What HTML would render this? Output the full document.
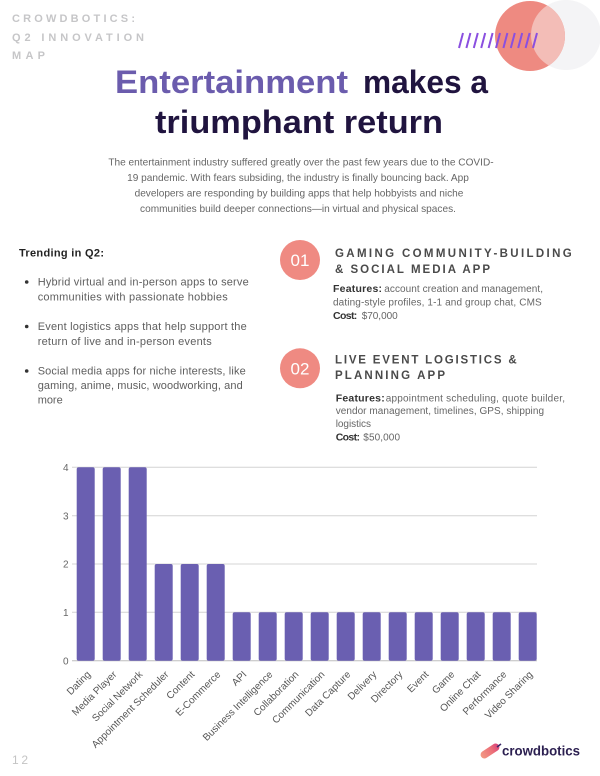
<!DOCTYPE html>
<html>
<head>
<meta charset="utf-8">
<style>
  html,body{margin:0;padding:0;background:#fff;}
  body{width:600px;height:776px;overflow:hidden;}
  svg{display:block;}
  text{font-family:"Liberation Sans", Arial, sans-serif;}
</style>
</head>
<body>
<svg width="600" height="776" viewBox="0 0 600 776" xmlns="http://www.w3.org/2000/svg">
  <defs>
    <clipPath id="gclip"><circle cx="566" cy="35" r="35"/></clipPath>
    <linearGradient id="logoGrad" x1="0" y1="0" x2="1" y2="0">
      <stop offset="0" stop-color="#f29a84"/>
      <stop offset="0.6" stop-color="#ec6f78"/>
      <stop offset="1" stop-color="#d9407a"/>
    </linearGradient>
  </defs>

  <!-- top-right decoration -->
  <circle cx="566" cy="35" r="35" fill="#f4f4f6"/>
  <circle cx="530" cy="36" r="35" fill="#ee8a81"/>
  <circle cx="530" cy="36" r="35" fill="#f3bdb7" clip-path="url(#gclip)"/>
  <g stroke="#8a4fe0" stroke-width="2">
    <line x1="463" y1="33" x2="459" y2="48"/>
    <line x1="470.4" y1="33" x2="466.4" y2="48"/>
    <line x1="477.8" y1="33" x2="473.8" y2="48"/>
    <line x1="485.2" y1="33" x2="481.2" y2="48"/>
    <line x1="492.6" y1="33" x2="488.6" y2="48"/>
    <line x1="500" y1="33" x2="496" y2="48"/>
    <line x1="507.4" y1="33" x2="503.4" y2="48"/>
    <line x1="514.8" y1="33" x2="510.8" y2="48"/>
    <line x1="522.2" y1="33" x2="518.2" y2="48"/>
    <line x1="529.6" y1="33" x2="525.6" y2="48"/>
    <line x1="537" y1="33" x2="533" y2="48"/>
  </g>

  <!-- header -->
  <g fill="#c6c6c8" font-weight="bold" font-size="11">
    <text x="12" y="22" textLength="123" lengthAdjust="spacing">CROWDBOTICS:</text>
    <text x="12" y="41" textLength="132" lengthAdjust="spacing">Q2 INNOVATION</text>
    <text x="12" y="59" textLength="33" lengthAdjust="spacing">MAP</text>
  </g>

  <!-- title -->
  <g font-weight="bold" font-size="32">
    <text x="115" y="93" fill="#6b5cad" textLength="233" lengthAdjust="spacingAndGlyphs">Entertainment</text>
    <text x="363" y="93" fill="#20143f" textLength="125" lengthAdjust="spacingAndGlyphs">makes a</text>
    <text x="155" y="133" fill="#20143f" textLength="288" lengthAdjust="spacingAndGlyphs">triumphant return</text>
  </g>

  <!-- paragraph -->
  <g fill="#666" font-size="10.1" text-anchor="middle">
    <text x="301" y="165.5">The entertainment industry suffered greatly over the past few years due to the COVID-</text>
    <text x="298" y="181">19 pandemic. With fears subsiding, the industry is finally bouncing back. App</text>
    <text x="299" y="196.5">developers are responding by building apps that help hobbyists and niche</text>
    <text x="298" y="212">communities build deeper connections—in virtual and physical spaces.</text>
  </g>

  <!-- left column -->
  <text x="19" y="256.5" font-size="11" font-weight="bold" fill="#222" textLength="85" lengthAdjust="spacing">Trending in Q2:</text>
  <g fill="#333">
    <circle cx="26.7" cy="282" r="1.8"/>
    <circle cx="26.7" cy="326.5" r="1.8"/>
    <circle cx="26.7" cy="371" r="1.8"/>
  </g>
  <g fill="#5e5e5e" font-size="11">
    <text x="37.7" y="285.5" textLength="211" lengthAdjust="spacing">Hybrid virtual and in-person apps to serve</text>
    <text x="37.7" y="300.5" textLength="190" lengthAdjust="spacing">communities with passionate hobbies</text>
    <text x="37.7" y="330" textLength="209" lengthAdjust="spacing">Event logistics apps that help support the</text>
    <text x="37.7" y="345" textLength="174" lengthAdjust="spacing">return of live and in-person events</text>
    <text x="37.7" y="374.5" textLength="208" lengthAdjust="spacing">Social media apps for niche interests, like</text>
    <text x="37.7" y="389" textLength="205" lengthAdjust="spacing">gaming, anime, music, woodworking, and</text>
    <text x="37.7" y="403.5" textLength="25" lengthAdjust="spacing">more</text>
  </g>

  <!-- right column -->
  <circle cx="300" cy="260" r="20" fill="#ef8a82"/>
  <text x="300" y="266" text-anchor="middle" font-size="17" fill="#fff">01</text>
  <circle cx="300" cy="368.3" r="20" fill="#ef8a82"/>
  <text x="300" y="374.3" text-anchor="middle" font-size="17" fill="#fff">02</text>

  <g fill="#4a4a4a" font-weight="bold" font-size="11.5">
    <text x="335" y="257" textLength="236.7" lengthAdjust="spacing">GAMING COMMUNITY-BUILDING</text>
    <text x="335" y="273" textLength="155" lengthAdjust="spacing">&amp; SOCIAL MEDIA APP</text>
    <text x="335" y="363.5" textLength="181.7" lengthAdjust="spacing">LIVE EVENT LOGISTICS &amp;</text>
    <text x="335" y="379" textLength="110" lengthAdjust="spacing">PLANNING APP</text>
  </g>

  <g font-size="10">
    <text x="333" y="292" font-weight="bold" font-size="10.5" fill="#333" textLength="49" lengthAdjust="spacing">Features:</text>
    <text x="384.3" y="292" fill="#666" textLength="158.7" lengthAdjust="spacing">account creation and management,</text>
    <text x="333" y="305.5" fill="#666" textLength="208.7" lengthAdjust="spacing">dating-style profiles, 1-1 and group chat, CMS</text>
    <text x="333" y="319" font-weight="bold" font-size="10.5" fill="#333" textLength="24.3" lengthAdjust="spacing">Cost:</text>
    <text x="361.7" y="319" fill="#666" textLength="36" lengthAdjust="spacing">$70,000</text>

    <text x="335.7" y="401.5" font-weight="bold" font-size="10.5" fill="#333" textLength="49" lengthAdjust="spacing">Features:</text>
    <text x="385.7" y="401.5" fill="#666" textLength="179.3" lengthAdjust="spacing">appointment scheduling, quote builder,</text>
    <text x="335.7" y="414" fill="#666" textLength="208.3" lengthAdjust="spacing">vendor management, timelines, GPS, shipping</text>
    <text x="335.7" y="427" fill="#666" textLength="35.3" lengthAdjust="spacing">logistics</text>
    <text x="335.7" y="440.5" font-weight="bold" font-size="10.5" fill="#333" textLength="24.3" lengthAdjust="spacing">Cost:</text>
    <text x="363.3" y="440.5" fill="#666" textLength="36.7" lengthAdjust="spacing">$50,000</text>
  </g>

  <!-- chart gridlines -->
  <g stroke="#d4d4d4" stroke-width="1">
    <line x1="72" y1="467.3" x2="537" y2="467.3"/>
    <line x1="72" y1="515.7" x2="537" y2="515.7"/>
    <line x1="72" y1="564" x2="537" y2="564"/>
    <line x1="72" y1="612.3" x2="537" y2="612.3"/>
  </g>
  <line x1="72" y1="660.7" x2="537" y2="660.7" stroke="#bdbdbd" stroke-width="1"/>

  <!-- y labels -->
  <g fill="#666" font-size="10" text-anchor="end">
    <text x="68.5" y="471">4</text>
    <text x="68.5" y="519.4">3</text>
    <text x="68.5" y="567.7">2</text>
    <text x="68.5" y="616">1</text>
    <text x="68.5" y="664.4">0</text>
  </g>

  <!-- bars -->
  <g fill="#6a5fb1">
    <rect x="76.7" y="467.3" width="18" height="193.4" rx="2"/>
    <rect x="102.7" y="467.3" width="18" height="193.4" rx="2"/>
    <rect x="128.7" y="467.3" width="18" height="193.4" rx="2"/>
    <rect x="154.7" y="564" width="18" height="96.7" rx="2"/>
    <rect x="180.7" y="564" width="18" height="96.7" rx="2"/>
    <rect x="206.7" y="564" width="18" height="96.7" rx="2"/>
    <rect x="232.7" y="612.3" width="18" height="48.4" rx="2"/>
    <rect x="258.7" y="612.3" width="18" height="48.4" rx="2"/>
    <rect x="284.7" y="612.3" width="18" height="48.4" rx="2"/>
    <rect x="310.7" y="612.3" width="18" height="48.4" rx="2"/>
    <rect x="336.7" y="612.3" width="18" height="48.4" rx="2"/>
    <rect x="362.7" y="612.3" width="18" height="48.4" rx="2"/>
    <rect x="388.7" y="612.3" width="18" height="48.4" rx="2"/>
    <rect x="414.7" y="612.3" width="18" height="48.4" rx="2"/>
    <rect x="440.7" y="612.3" width="18" height="48.4" rx="2"/>
    <rect x="466.7" y="612.3" width="18" height="48.4" rx="2"/>
    <rect x="492.7" y="612.3" width="18" height="48.4" rx="2"/>
    <rect x="518.7" y="612.3" width="18" height="48.4" rx="2"/>
  </g>

  <!-- x labels -->
  <g fill="#555" font-size="10" text-anchor="end">
    <text transform="translate(91.2,675) rotate(-45)">Dating</text>
    <text transform="translate(117.2,675) rotate(-45)">Media Player</text>
    <text transform="translate(143.2,675) rotate(-45)">Social Network</text>
    <text transform="translate(169.2,675) rotate(-45)">Appointment Scheduler</text>
    <text transform="translate(195.2,675) rotate(-45)">Content</text>
    <text transform="translate(221.2,675) rotate(-45)">E-Commerce</text>
    <text transform="translate(247.2,675) rotate(-45)">API</text>
    <text transform="translate(273.2,675) rotate(-45)">Business Intelligence</text>
    <text transform="translate(299.2,675) rotate(-45)">Collaboration</text>
    <text transform="translate(325.2,675) rotate(-45)">Communication</text>
    <text transform="translate(351.2,675) rotate(-45)">Data Capture</text>
    <text transform="translate(377.2,675) rotate(-45)">Delivery</text>
    <text transform="translate(403.2,675) rotate(-45)">Directory</text>
    <text transform="translate(429.2,675) rotate(-45)">Event</text>
    <text transform="translate(455.2,675) rotate(-45)">Game</text>
    <text transform="translate(481.2,675) rotate(-45)">Online Chat</text>
    <text transform="translate(507.2,675) rotate(-45)">Performance</text>
    <text transform="translate(533.2,675) rotate(-45)">Video Sharing</text>
  </g>

  <!-- page number -->
  <text x="12" y="764" font-size="12" fill="#c4c4c4" textLength="16" lengthAdjust="spacing">12</text>

  <!-- logo -->
  <g transform="translate(490,751) rotate(-33)">
    <rect x="-10.5" y="-3.8" width="21" height="7.6" rx="3.8" fill="url(#logoGrad)"/>
  </g>
  <line x1="497" y1="747" x2="501" y2="744" stroke="#3a2a6a" stroke-width="1.6"/>
  <text x="502" y="755.5" font-size="13.5" font-weight="bold" fill="#2b1f50" textLength="78" lengthAdjust="spacingAndGlyphs">crowdbotics</text>
</svg>
</body>
</html>
